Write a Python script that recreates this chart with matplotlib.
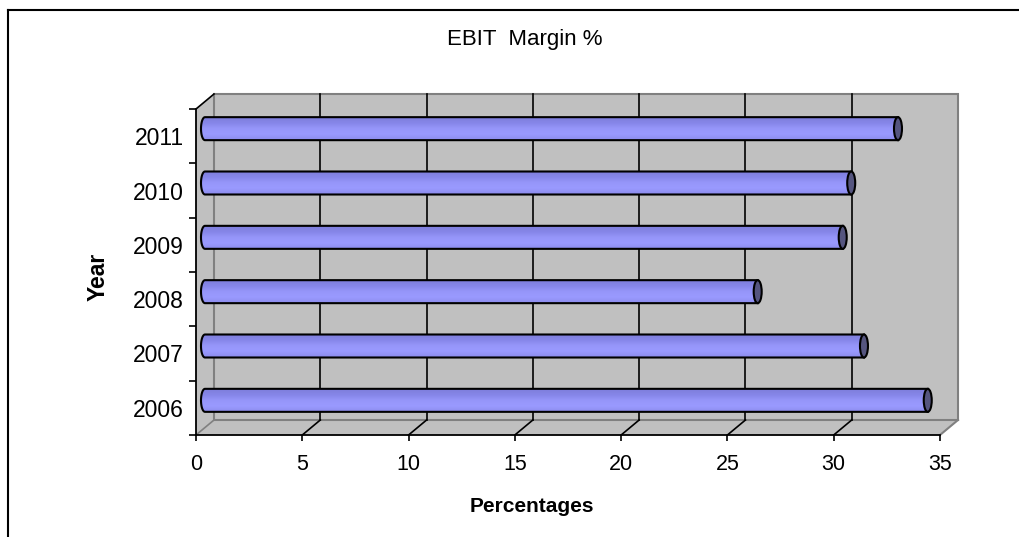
import numpy as np
import matplotlib
matplotlib.use("Agg")
import matplotlib.pyplot as plt
from matplotlib.patches import Polygon, Ellipse
from matplotlib.colors import LinearSegmentedColormap

plt.rcParams["font.family"] = ["Liberation Sans", "DejaVu Sans"]

# EBIT margin per year (percent)
years = ["2006", "2007", "2008", "2009", "2010", "2011"]
margins = [34.0, 31.0, 26.0, 30.0, 30.4, 32.6]
x_ticks = [0, 5, 10, 15, 20, 25, 30, 35]

W, H = 1020, 537
fig = plt.figure(figsize=(W / 100, H / 100), dpi=100)
fig.patch.set_facecolor("white")

# front plane of the pseudo-3D plot area (pixels)
left_px, right_px, top_px, bottom_px = 196, 940, 109, 435
ax = fig.add_axes([left_px / W, 1 - bottom_px / H,
                   (right_px - left_px) / W, (bottom_px - top_px) / H])
xmin, xmax = 0, 35
ymin, ymax = -0.5, len(years) - 0.5
ax.set_xlim(xmin, xmax)
ax.set_ylim(ymin, ymax)
ax.patch.set_visible(False)

# depth of the box: 18 px right, 15 px up, in data units
DX = 18 * (xmax - xmin) / (right_px - left_px)
DY = 15 * (ymax - ymin) / (bottom_px - top_px)

WALL = "#C0C0C0"
EDGE = "#808080"

# side wall, floor, back wall
side = Polygon([(xmin, ymin), (xmin, ymax), (xmin + DX, ymax + DY), (xmin + DX, ymin + DY)],
               closed=True, facecolor=WALL, edgecolor="none", zorder=0, clip_on=False)
floor = Polygon([(xmin, ymin), (xmax, ymin), (xmax + DX, ymin + DY), (xmin + DX, ymin + DY)],
                closed=True, facecolor=WALL, edgecolor="none", zorder=0, clip_on=False)
back = Polygon([(xmin + DX, ymin + DY), (xmax + DX, ymin + DY), (xmax + DX, ymax + DY), (xmin + DX, ymax + DY)],
               closed=True, facecolor=WALL, edgecolor=EDGE, lw=1.5, zorder=0.5, clip_on=False)
for p in (side, floor, back):
    ax.add_patch(p)

# outlines of the box
ax.plot([xmax, xmax + DX], [ymin, ymin + DY], color=EDGE, lw=1.5, zorder=1, clip_on=False)
ax.plot([xmin, xmin + DX], [ymin, ymin + DY], color=EDGE, lw=1.2, zorder=1, clip_on=False)
ax.plot([xmin, xmin + DX], [ymax, ymax + DY], color="black", lw=1.2, zorder=1, clip_on=False)

# gridlines on back wall and floor
for v in x_ticks[1:-1]:
    ax.plot([v + DX, v + DX], [ymin + DY, ymax + DY], color="black", lw=1.2, zorder=1, clip_on=False)
    ax.plot([v, v + DX], [ymin, ymin + DY], color="black", lw=1.2, zorder=1, clip_on=False)

# cylinders
grad_colors = ["#8C8CEE", "#9A9AFF", "#9696FA", "#8686E8", "#7E7EDC"]
cmap = LinearSegmentedColormap.from_list("cyl", grad_colors)
grad = np.linspace(0, 1, 64).reshape(-1, 1)
r_y = 11.5 * (ymax - ymin) / (bottom_px - top_px)
r_x = 4 * (xmax - xmin) / (right_px - left_px)
x0 = xmin + DX / 2
t = np.linspace(np.pi / 2, 3 * np.pi / 2, 40)
for i, val in enumerate(margins):
    yc = i + DY / 2
    x1 = val + DX / 2
    pts = [(x0 + r_x * np.cos(a), yc + r_y * np.sin(a)) for a in t]
    pts += [(x1, yc - r_y), (x1, yc + r_y)]
    body = Polygon(pts, closed=True, facecolor="none", edgecolor="black", lw=1.5, zorder=3.2, clip_on=False)
    ax.add_patch(body)
    im = ax.imshow(grad, cmap=cmap, extent=(x0 - r_x, x1, yc + r_y, yc - r_y),
                   aspect="auto", zorder=3, interpolation="bilinear")
    im.set_clip_path(body)
    cap = Ellipse((x1, yc), 2 * r_x, 2 * r_y, facecolor="#55557F", edgecolor="black", lw=1.5, zorder=3.4)
    ax.add_patch(cap)

ax.set_xlim(xmin, xmax)
ax.set_ylim(ymin, ymax)

# axes, ticks and labels
for s in ("top", "right"):
    ax.spines[s].set_visible(False)
for s in ("left", "bottom"):
    ax.spines[s].set_color("black")
    ax.spines[s].set_linewidth(1.3)
    ax.spines[s].set_zorder(2)

ax.set_xticks(x_ticks)
ax.set_xticklabels([str(v) for v in x_ticks])
ax.tick_params(axis="x", length=4, width=1.2, pad=10, labelsize=15.5, color="black")
ax.set_yticks(range(len(years)))
ax.set_yticklabels(years)
ax.set_yticks(np.arange(ymin, ymax + 0.01, 1), minor=True)
ax.tick_params(axis="y", which="major", length=0, pad=9, labelsize=16.5)
ax.tick_params(axis="y", which="minor", length=5, width=1.2, color="black")

fig.text(525 / W, 1 - 40 / H, "EBIT  Margin %", ha="center", va="center", fontsize=16)
fig.text(532 / W, 1 - 506 / H, "Percentages", ha="center", va="center", fontsize=15, fontweight="bold")
fig.text(98 / W, 1 - 277 / H, "Year", ha="center", va="center", rotation=90, fontsize=16.5, fontweight="bold")

# chart frame (top and left edges)
fig.add_artist(plt.Line2D([8 / W, 1.0], [1 - 10 / H, 1 - 10 / H], color="black", lw=1.5))
fig.add_artist(plt.Line2D([8 / W, 8 / W], [0, 1 - 10 / H], color="black", lw=1.5))

fig.savefig("out.png", dpi=100)
